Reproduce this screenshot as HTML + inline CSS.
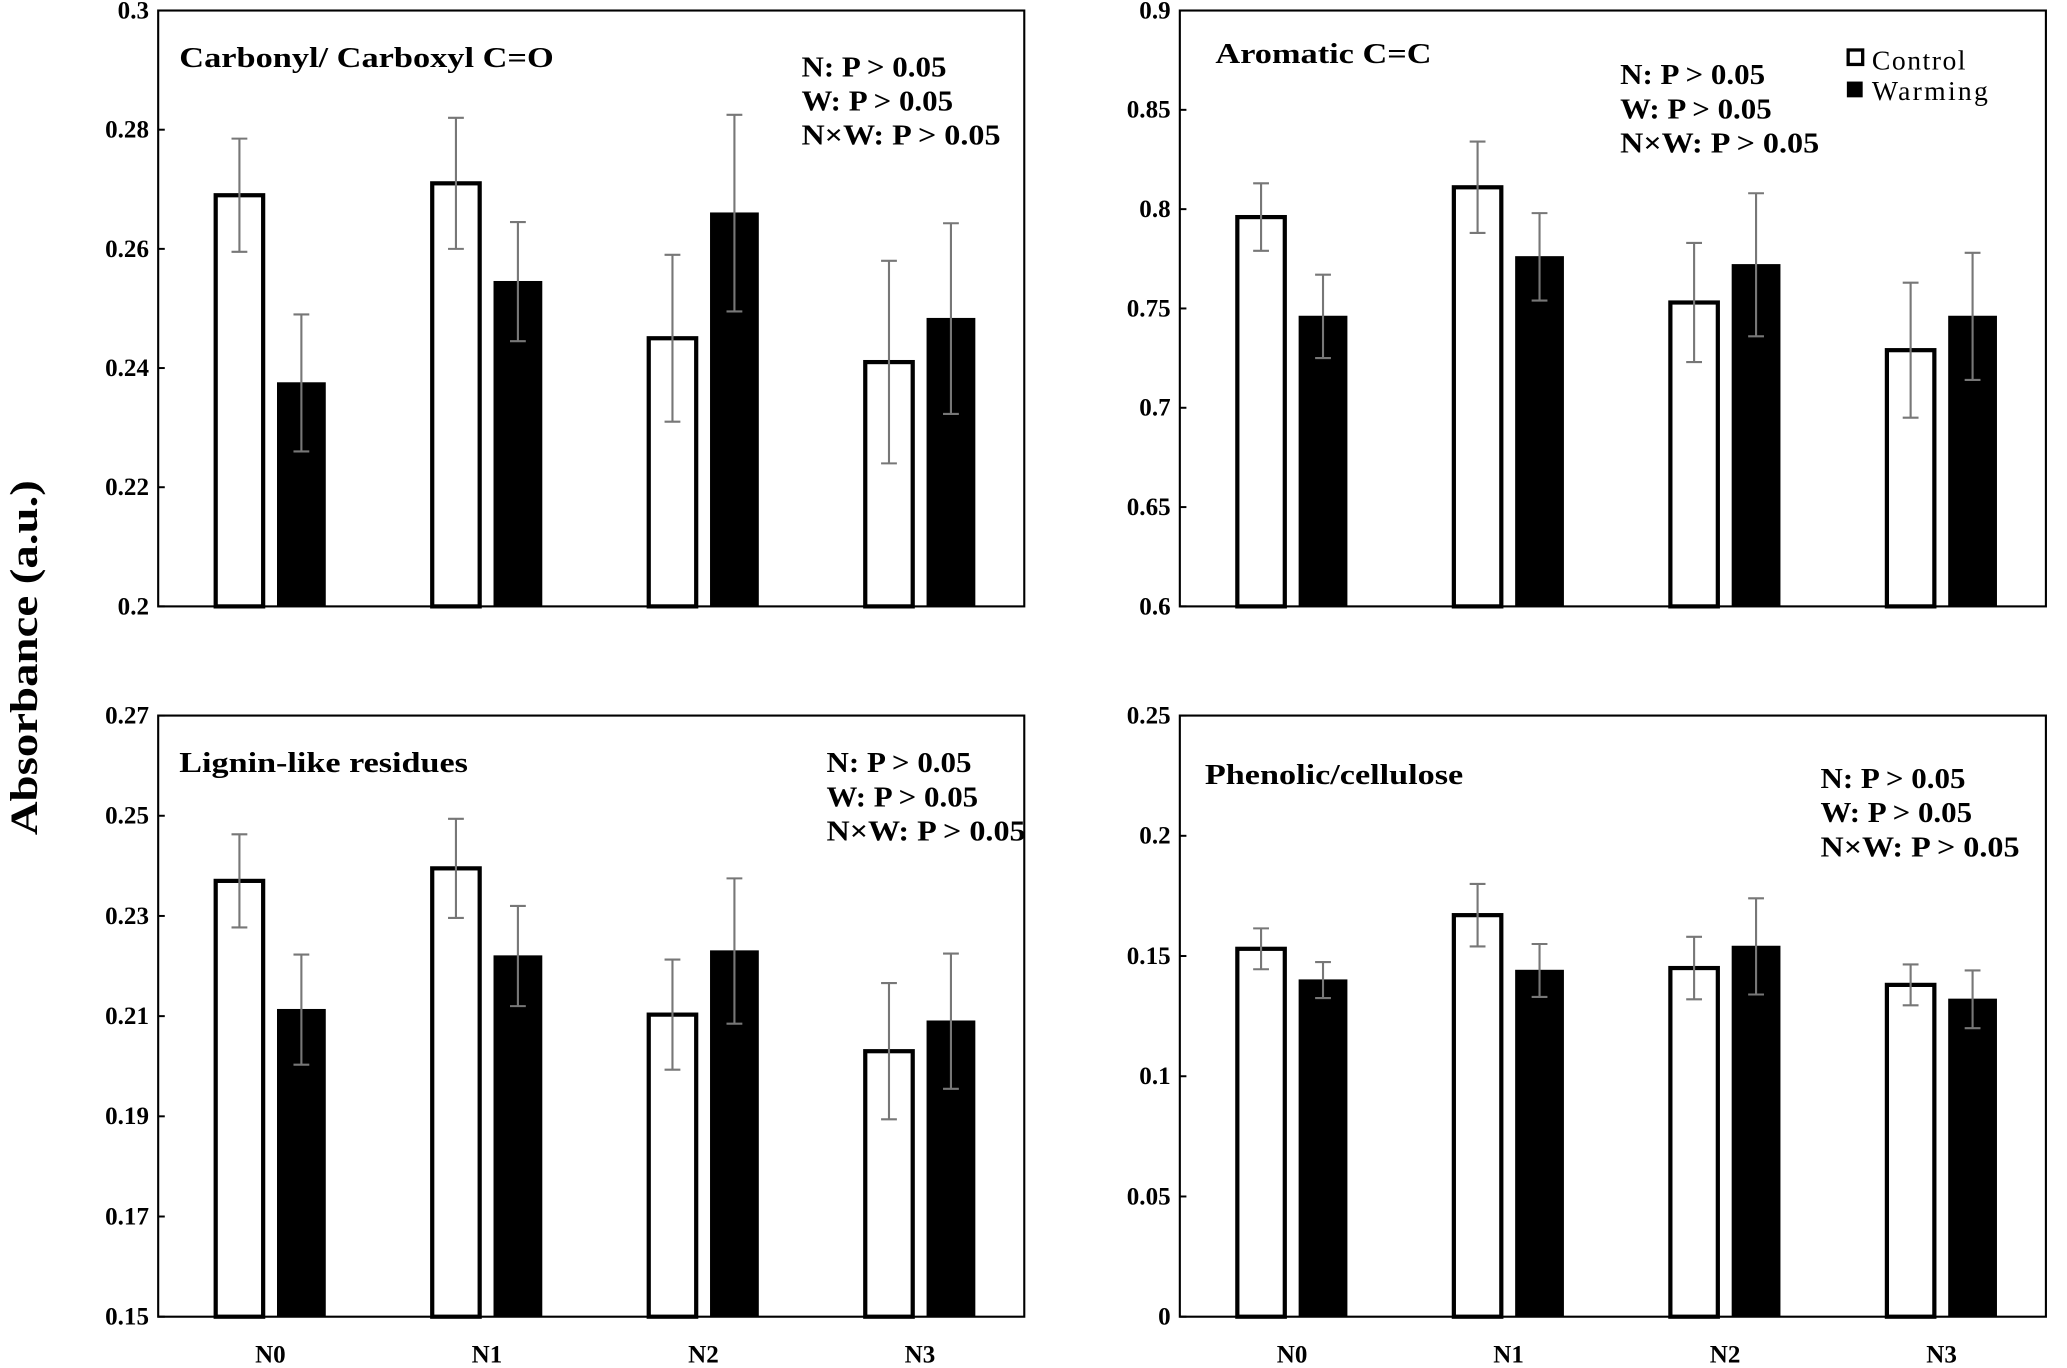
<!DOCTYPE html>
<html><head><meta charset="utf-8"><style>
html,body{margin:0;padding:0;background:#fff;}
svg{display:block;font-family:"Liberation Serif",serif;font-weight:bold;}
</style></head><body>
<svg id="chart" width="2067" height="1368" viewBox="0 0 1568 1040" preserveAspectRatio="none" xmlns="http://www.w3.org/2000/svg">
<text transform="translate(28,500) rotate(-90)" text-anchor="middle" font-size="30" textLength="270" lengthAdjust="spacingAndGlyphs">Absorbance (a.u.)</text>
<g>
<rect x="1402" y="38" width="11" height="11" fill="#fff" stroke="#000" stroke-width="2.5"/>
<text x="1420" y="53" font-size="21" font-weight="normal" textLength="71">Control</text>
<rect x="1401" y="62" width="12" height="12" fill="#000"/>
<text x="1420" y="76" font-size="21" font-weight="normal" textLength="88">Warming</text>
</g>
</svg>
<script>
const categories=["N0","N1","N2","N3"];
const p1Control=[0.269,0.271,0.245,0.241];
const p1ControlErr=[0.0095,0.011,0.014,0.017];
const p1Warming=[0.2375,0.2545,0.266,0.2483];
const p1WarmingErr=[0.0115,0.010,0.0165,0.016];
const p1Ticks=["0.2","0.22","0.24","0.26","0.28","0.3"];
const p2Control=[0.796,0.811,0.753,0.729];
const p2ControlErr=[0.017,0.023,0.030,0.034];
const p2Warming=[0.746,0.776,0.772,0.746];
const p2WarmingErr=[0.021,0.022,0.036,0.032];
const p2Ticks=["0.6","0.65","0.7","0.75","0.8","0.85","0.9"];
const p3Control=[0.237,0.2395,0.2103,0.203];
const p3ControlErr=[0.0093,0.0099,0.011,0.0136];
const p3Warming=[0.2113,0.222,0.223,0.209];
const p3WarmingErr=[0.011,0.010,0.0145,0.0135];
const p3Ticks=["0.15","0.17","0.19","0.21","0.23","0.25","0.27"];
const p4Control=[0.153,0.167,0.145,0.138];
const p4ControlErr=[0.0085,0.013,0.013,0.0085];
const p4Warming=[0.140,0.144,0.154,0.132];
const p4WarmingErr=[0.0075,0.011,0.020,0.012];
const p4Ticks=["0","0.05","0.1","0.15","0.2","0.25"];

const svg=document.getElementById('chart');
const NS="http://www.w3.org/2000/svg";
function mk(tag,attrs,parent){const e=document.createElementNS(NS,tag);for(const k in attrs)e.setAttribute(k,attrs[k]);(parent||svg).appendChild(e);return e;}

const panels=[
 {id:'carbonyl',x0:120,x1:777,y0:8,y1:461,c:p1Control,ce:p1ControlErr,w:p1Warming,we:p1WarmingErr,t:p1Ticks,title:"Carbonyl/ Carboxyl C=O",tl:284,tx:136,ty:51,sx:608,sy:58,xl:false},
 {id:'aromatic',x0:895,x1:1552,y0:8,y1:461,c:p2Control,ce:p2ControlErr,w:p2Warming,we:p2WarmingErr,t:p2Ticks,title:"Aromatic C=C",tl:164,tx:922,ty:48,sx:1229,sy:64,xl:false},
 {id:'lignin',x0:120,x1:777,y0:544,y1:1001,c:p3Control,ce:p3ControlErr,w:p3Warming,we:p3WarmingErr,t:p3Ticks,title:"Lignin-like residues",tl:219,tx:136,ty:587,sx:627,sy:587,xl:true},
 {id:'phenolic',x0:895,x1:1552,y0:544,y1:1001,c:p4Control,ce:p4ControlErr,w:p4Warming,we:p4WarmingErr,t:p4Ticks,title:"Phenolic/cellulose",tl:196,tx:914,ty:596,sx:1381,sy:599,xl:true}
];
const statsLines=["N: P > 0.05","W: P > 0.05","N×W: P > 0.05"];
const statsLens=[110,115,151];
panels.forEach(p=>{
 const g=mk('g',{});
 
 
 const lo=parseFloat(p.t[0]),hi=parseFloat(p.t[p.t.length-1]);
 const Y=v=>p.y1-(v-lo)/(hi-lo)*(p.y1-p.y0);
 const band=(p.x1-p.x0)/categories.length;
 const X=i=>p.x0+band*(i+0.5)+3;
 const box=mk('rect',{x:p.x0,y:p.y0,width:p.x1-p.x0,height:p.y1-p.y0,fill:'none',stroke:'#000','stroke-width':1.6},g);
 
 
 p.t.forEach(t=>{
  const y=Y(parseFloat(t));
  const tk=mk('line',{x1:p.x0,x2:p.x0+5,y1:y,y2:y,stroke:'#000','stroke-width':1.5},g);
  
  
  const tl=mk('text',{x:p.x0-7,y:y+6,'text-anchor':'end','font-size':19},g);
  tl.textContent=t;
  
  
 });
 categories.forEach((c,i)=>{
  const cx=X(i);
  [[p.c,p.ce,-23.5,'control'],[p.w,p.we,23.5,'warming']].forEach(([vals,errs,off,kind])=>{
   const bx=cx+off, v=vals[i], e=errs[i];
   const ctl=kind==='control';
   const r=mk('rect',{x:bx-18,y:Y(v),width:36,height:p.y1-Y(v),fill:ctl?'#fff':'#000',stroke:'#000','stroke-width':ctl?3.2:1},g);
   
   
   const eb=mk('path',{d:`M${bx-6},${Y(v+e)}H${bx+6}M${bx},${Y(v+e)}V${Y(v-e)}M${bx-6},${Y(v-e)}H${bx+6}`,stroke:'#777','stroke-width':1.6,fill:'none'},g);
   
   
  });
  if(p.xl){
   const xl=mk('text',{x:cx,y:1036,'text-anchor':'middle','font-size':19},g);
   xl.textContent=c;
   
   
  }
 });
 const tt=mk('text',{x:p.tx,y:p.ty,'font-size':22,textLength:p.tl,lengthAdjust:'spacingAndGlyphs'},g);
 tt.textContent=p.title;
 
 
 statsLines.forEach((s,k)=>{
  const st=mk('text',{x:p.sx,y:p.sy+k*26,'font-size':22,textLength:statsLens[k],lengthAdjust:'spacingAndGlyphs'},g);
  st.textContent=s;
  
  
 });
});
</script>
</body></html>
